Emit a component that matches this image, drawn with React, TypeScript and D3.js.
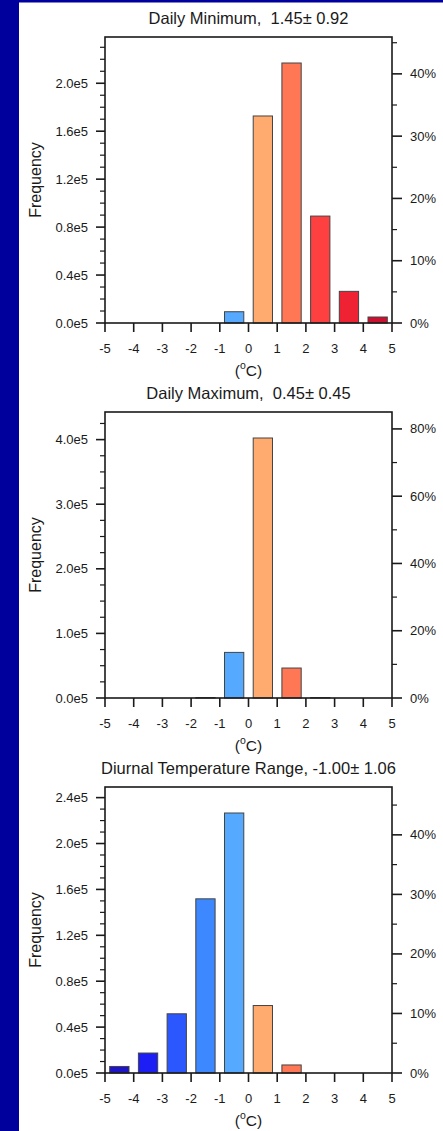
import React from "react";
import * as d3 from "d3";

// ---- data ----
const binCenters = [-4.5, -3.5, -2.5, -1.5, -0.5, 0.5, 1.5, 2.5, 3.5, 4.5];
const xTickValues = [-5, -4, -3, -2, -1, 0, 1, 2, 3, 4, 5];
const binColors = [
  "#1e14c8", "#1c1ef5", "#2b57ff", "#3d87ff", "#55aaff",
  "#ffaa6e", "#ff7755", "#ff4040", "#ee2233", "#cc1030",
];
const minValues = [0, 0, 0, 0, 9400, 172700, 216900, 89200, 26400, 5000];
const maxValues = [0, 0, 0, 600, 70600, 402500, 46400, 600, 0, 0];
const dtrValues = [5700, 17400, 51600, 151800, 226600, 58800, 7000, 0, 0, 0];
const titles = [
  "Daily Minimum,  1.45\u00b1 0.92",
  "Daily Maximum,  0.45\u00b1 0.45",
  "Diurnal Temperature Range, -1.00\u00b1 1.06",
];
const leftSteps = [40000, 100000, 40000];
const pctSteps = [10, 20, 10];

const FONT = "'Liberation Sans', Arial, Helvetica, sans-serif";
const INK = "#1a1a1a";

type PanelProps = {
  offsetY: number;
  title: string;
  values: number[];
  leftStep: number;
  pctStep: number;
};

function Panel({ offsetY, title, values, leftStep, pctStep }: PanelProps) {
  const left = 105;
  const right = 392;
  const top = offsetY + 37;
  const base = offsetY + 323;
  const maxV = d3.max(values) as number;
  const total = d3.sum(values);
  const yMax = maxV * 1.1;
  const x = d3.scaleLinear().domain([-5, 5]).range([left, right]);
  const y = d3.scaleLinear().domain([0, yMax]).range([base, top]);
  const pMax = (yMax / total) * 100;
  const pct = d3.scaleLinear().domain([0, pMax]).range([base, top]);

  const leftMajor = d3.range(0, yMax + 1e-6, leftStep);
  const leftMinor = d3.range(0, yMax + 1e-6, leftStep / 4).filter(
    (v) => Math.abs(v / leftStep - Math.round(v / leftStep)) > 1e-6
  );
  const pctMajor = d3.range(0, pMax + 1e-6, pctStep);
  const pctMinor = d3.range(pctStep / 2, pMax + 1e-6, pctStep);

  const halfW = 0.336;
  const midX = (left + right) / 2;
  const midY = (top + base) / 2;

  return (
    <g fontFamily={FONT} fill={INK}>
      <text
        x={midX}
        y={offsetY + 18}
        textAnchor="middle"
        dominantBaseline="central"
        fontSize={16.5}
        style={{ whiteSpace: "pre" }}
      >
        {title}
      </text>
      {values.map((v, i) =>
        v > 0 ? (
          <rect
            key={i}
            x={x(binCenters[i] - halfW)}
            y={y(v)}
            width={x(binCenters[i] + halfW) - x(binCenters[i] - halfW)}
            height={base - y(v)}
            fill={binColors[i]}
            stroke="#444"
            strokeWidth={1}
          />
        ) : null
      )}
      {/* frame */}
      <rect x={left} y={top} width={right - left} height={base - top} fill="none" stroke={INK} strokeWidth={1.6} />
      {/* left ticks */}
      {leftMajor.map((v) => (
        <g key={"lm" + v}>
          <line x1={left - 9} x2={left} y1={y(v)} y2={y(v)} stroke={INK} strokeWidth={1.6} />
          <text x={left - 17} y={y(v)} textAnchor="end" dominantBaseline="central" fontSize={13}>
            {(v / 1e5).toFixed(1) + "e5"}
          </text>
        </g>
      ))}
      {leftMinor.map((v) => (
        <line key={"ln" + v} x1={left - 5} x2={left} y1={y(v)} y2={y(v)} stroke={INK} strokeWidth={1.2} />
      ))}
      {/* right ticks */}
      {pctMajor.map((p) => (
        <g key={"pm" + p}>
          <line x1={right} x2={right + 10} y1={pct(p)} y2={pct(p)} stroke={INK} strokeWidth={1.6} />
          <text x={right + 18} y={pct(p)} textAnchor="start" dominantBaseline="central" fontSize={13}>
            {p + "%"}
          </text>
        </g>
      ))}
      {pctMinor.map((p) => (
        <line key={"pn" + p} x1={right} x2={right + 5} y1={pct(p)} y2={pct(p)} stroke={INK} strokeWidth={1.2} />
      ))}
      {/* x ticks */}
      {xTickValues.map((t) => (
        <g key={"x" + t}>
          <line x1={x(t)} x2={x(t)} y1={base} y2={base + 9} stroke={INK} strokeWidth={1.6} />
          <text x={x(t)} y={base + 25} textAnchor="middle" dominantBaseline="central" fontSize={13}>
            {String(t)}
          </text>
        </g>
      ))}
      <text x={midX} y={base + 47} textAnchor="middle" dominantBaseline="central" fontSize={15.5}>
        (
        <tspan fontSize={10.5} dy={-5}>o</tspan>
        <tspan dy={5}>C)</tspan>
      </text>
      <text
        transform={`translate(35,${midY}) rotate(-90)`}
        textAnchor="middle"
        dominantBaseline="central"
        fontSize={16}
      >
        Frequency
      </text>
    </g>
  );
}

export default function App() {
  const series = [minValues, maxValues, dtrValues];
  return (
    <svg
      width={443}
      height={1131}
      style={{ position: "absolute", left: 0, top: 0, display: "block" }}
    >
      <rect x={0} y={0} width={443} height={1131} fill="#ffffff" />
      <rect x={0} y={0} width={19} height={1131} fill="#00009c" />
      <rect x={0} y={0} width={443} height={2.5} fill="#00009c" />
      {series.map((vals, i) => (
        <Panel
          key={i}
          offsetY={i * 375}
          title={titles[i]}
          values={vals}
          leftStep={leftSteps[i]}
          pctStep={pctSteps[i]}
        />
      ))}
    </svg>
  );
}
